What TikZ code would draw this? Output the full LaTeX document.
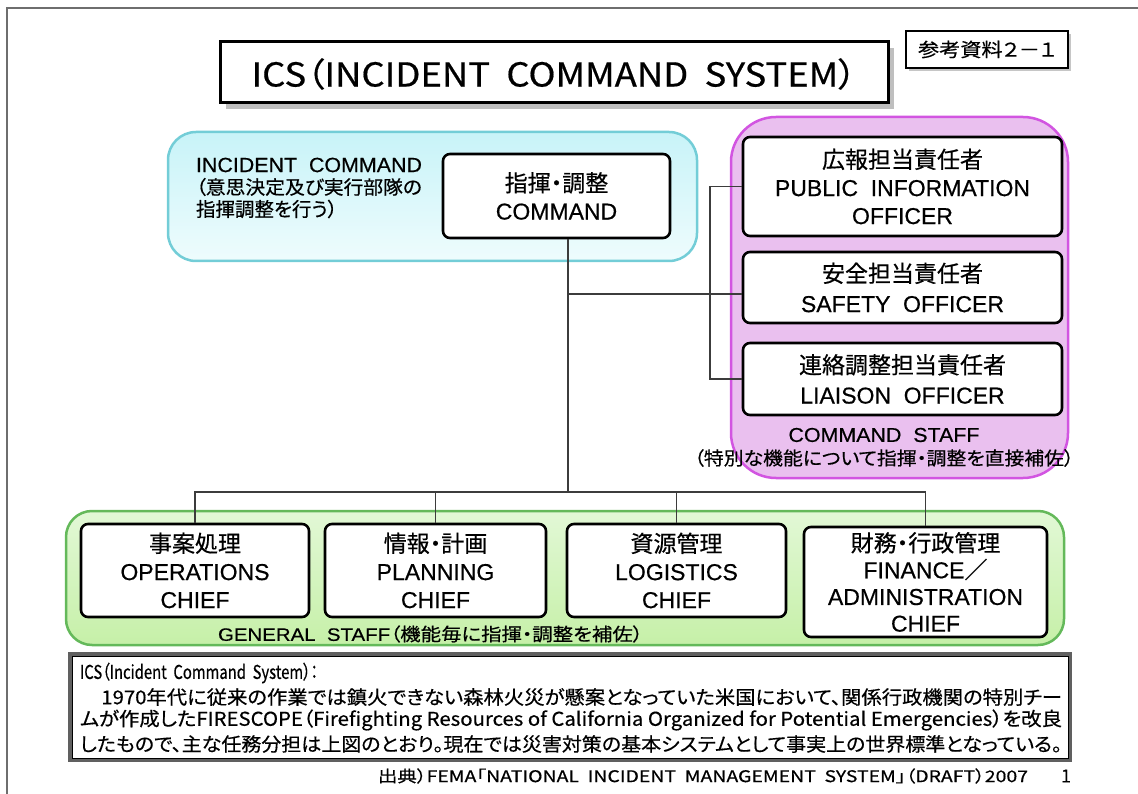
\documentclass[tikz,border=0pt]{standalone}
\usepackage{fontspec}
\setmainfont[FakeBold=0.5]{Liberation Sans}
\newfontfamily\jp[RawFeature=+palt, FakeBold=0.5]{Noto Sans CJK JP}
\usepackage{graphicx}
\newsavebox\fitbox
\newcommand\fitto[2]{\sbox\fitbox{#2}\pgfmathsetmacro\fitr{#1/\the\wd\fitbox}\scalebox{\fitr}[1]{\usebox\fitbox}}
\newcommand\fsz[2]{\fontsize{#1}{#2}\selectfont}
\definecolor{cyanB}{RGB}{115,205,215}
\definecolor{cyanT}{RGB}{200,243,248}
\definecolor{cyanL}{RGB}{238,252,253}
\definecolor{magB}{RGB}{210,85,225}
\definecolor{magF}{RGB}{234,192,239}
\definecolor{grnB}{RGB}{100,185,90}
\definecolor{grnT}{RGB}{226,248,214}
\definecolor{grnL}{RGB}{198,240,168}
\definecolor{lineC}{RGB}{60,60,60}
\definecolor{frameC}{RGB}{110,110,110}
\tikzset{
  chiefbox/.style={draw=black, line width=2.6pt, fill=white, rounded corners=7pt,
    inner sep=0pt, align=center, font=\fsz{23}{28}},
  conn/.style={draw=lineC, line width=1.5pt},
  plain/.style={inner sep=0pt, outer sep=0pt},
}
\begin{document}
\begin{tikzpicture}[x=1pt,y=-1pt]
\useasboundingbox (0,0) rectangle (1138,794);
% page frame
\draw[frameC, line width=1.5pt] (7,794) -- (7,8) -- (1138,8);

% title
\fill[gray!50] (226,48) rectangle (894,109);
\node[draw=black, line width=3pt, fill=white, minimum width=668, minimum height=61, plain] (title) at (554,72.5) {};
\node[plain, font=\jp\fsz{33}{38}] (titletxt) at (554,74) {\fitto{605}{ICS（INCIDENT\ \ COMMAND\ \ SYSTEM）}};

% reference label
\fill[gray!45] (909,34) rectangle (1071,71);
\node[draw=black, line width=1.3pt, fill=white, minimum width=162, minimum height=37, plain] (ref) at (987,49.5) {};
\node[plain, font=\jp\fsz{19}{22}] (reftxt) at (ref.center) {\fitto{138}{参考資料２－１}};

% regions
\shade[top color=cyanT, bottom color=cyanL, rounded corners=28pt] (168,132) rectangle (697,261);
\draw[cyanB, line width=2.5pt, rounded corners=28pt] (168,132) rectangle (697,261);
\draw[magB, fill=magF, line width=2.5pt, rounded corners=45pt] (731,117) rectangle (1068,478);
\shade[top color=grnT, bottom color=grnL, rounded corners=26pt] (66,511) rectangle (1064,645);
\draw[grnB, line width=2.5pt, rounded corners=26pt] (66,511) rectangle (1064,645);

% incident command label
\node[plain, anchor=west, font=\fsz{20.5}{24}] (ic1) at (196,165) {\fitto{226}{INCIDENT\ \ COMMAND}};
\node[plain, anchor=west, font=\jp\fsz{19}{22}] (ic2) at (196,187) {\fitto{226}{（意思決定及び実行部隊の}};
\node[plain, anchor=west, font=\jp\fsz{19.5}{22}] (ic3) at (196,209) {指揮調整を行う）};

% command
\node[chiefbox, minimum width=227, minimum height=84] (cmd) at (556.5,196) {{\jp 指揮・調整}\\COMMAND};

% command staff
\node[chiefbox, minimum width=319, minimum height=99] (pio) at (902.5,186.5) {{\jp 広報担当責任者}\\PUBLIC\hspace{0.55em}INFORMATION\\OFFICER};
\node[chiefbox, minimum width=319, minimum height=71, font=\fsz{23}{30}] (saf) at (902.5,287.5) {{\jp 安全担当責任者}\\SAFETY\hspace{0.55em}OFFICER};
\node[chiefbox, minimum width=319, minimum height=72, font=\fsz{23}{30}] (lia) at (902.5,379) {{\jp 連絡調整担当責任者}\\LIAISON\hspace{0.55em}OFFICER};
\node[plain, font=\fsz{20}{24}] (cs1) at (884,435) {\fitto{191}{COMMAND\ \ STAFF}};
\node[plain, font=\jp\fsz{18.5}{22}] (cs2) at (884,458) {\fitto{380}{（特別な機能について指揮・調整を直接補佐）}};

% general staff
\node[chiefbox, minimum width=228, minimum height=93] (op) at (195,570.5) {{\jp 事案処理}\\OPERATIONS\\CHIEF};
\node[chiefbox, minimum width=221, minimum height=93] (pl) at (435.5,570.5) {{\jp 情報・計画}\\PLANNING\\CHIEF};
\node[chiefbox, minimum width=219, minimum height=93] (lo) at (676.5,570.5) {{\jp 資源管理}\\LOGISTICS\\CHIEF};
\node[chiefbox, minimum width=243, minimum height=110, font=\fsz{23}{26.7}] (fin) at (925.5,582) {{\jp 財務・行政管理}\\FINANCE{\jp ／}\\ADMINISTRATION\\CHIEF};
\node[plain, anchor=west, font=\fsz{18}{22}] (gs) at (218,634) {\fitto{425}{GENERAL\ \ STAFF{\jp （機能毎に指揮・調整を補佐）}}};

% connectors
\coordinate (hub) at (568,492);
\coordinate (j) at (568,294);
\coordinate (bx) at (710,294);
\draw[conn] (cmd.south -| hub) -- (hub);
\draw[conn] (j) -- (j -| saf.west);
\draw[conn] (pio.west) -- (pio.west -| bx) -- (lia.west -| bx) -- (lia.west);
\draw[conn] (op.north) -- (op.north |- hub) -- (fin.north |- hub) -- (fin.north);
\draw[conn] (pl.north) -- (pl.north |- hub);
\draw[conn] (lo.north) -- (lo.north |- hub);

% explanation box
\draw[gray!75!black, line width=3.5pt] (70,654) rectangle (1070,760);
\node[draw=black, line width=1pt, minimum width=996, minimum height=102, plain] (expl) at (570,707) {};
\node[plain, anchor=west, font=\jp\fsz{19}{22}] (e1) at (80,673) {\fitto{238}{ICS（Incident\ \ Command\ \ System）：}};
\node[plain, anchor=west, font=\jp\fsz{19}{22}] (e2) at (81,697) {\fitto{981}{　1970年代に従来の作業では鎮火できない森林火災が懸案となっていた米国において、関係行政機関の特別チー}};
\node[plain, anchor=west, font=\jp\fsz{19}{22}] (e3) at (80,720) {\fitto{982}{ムが作成したFIRESCOPE（Firefighting Resources of California Organized for Potential Emergencies）を改良}};
\node[plain, anchor=west, font=\jp\fsz{19}{22}] (e4) at (80,744) {\fitto{982}{したもので、主な任務分担は上図のとおり。現在では災害対策の基本システムとして事実上の世界標準となっている。}};

% footer
\node[plain, anchor=west, font=\jp\fsz{16}{20}] (src) at (378,776) {\fitto{650}{出典）FEMA「NATIONAL\ \ INCIDENT\ \ MANAGEMENT\ \ SYSTEM」（DRAFT）2007}};
\node[plain, font=\jp\fsz{18}{20}] (pg) at (1066,776) {1};
\end{tikzpicture}
\end{document}
